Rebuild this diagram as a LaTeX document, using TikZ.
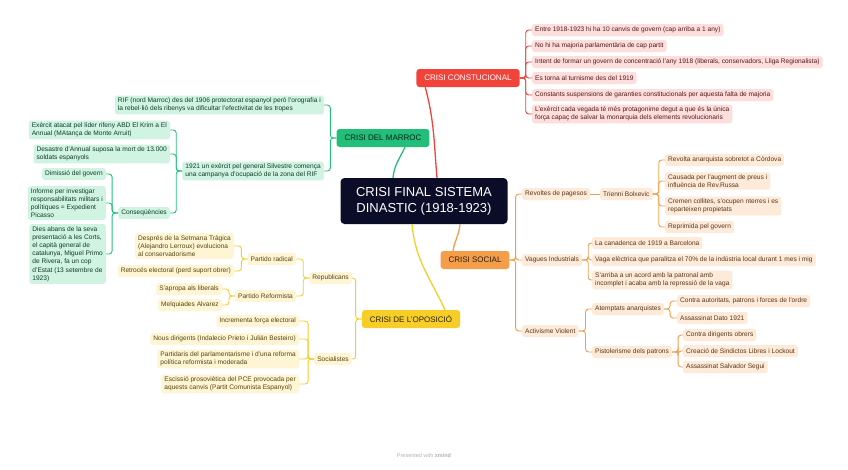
\documentclass[tikz,border=0pt]{standalone}
\usepackage{fontspec}
\setmainfont{Liberation Sans}
\usetikzlibrary{positioning, calc}

\definecolor{fonscentre}{RGB}{11,12,40}
\definecolor{rougebr}{RGB}{240,68,58}
\definecolor{rougeclair}{RGB}{252,222,220}
\definecolor{rougetxt}{RGB}{85,25,25}
\definecolor{vertbr}{RGB}{34,190,122}
\definecolor{vertclair}{RGB}{208,243,226}
\definecolor{verttxt}{RGB}{15,60,40}
\definecolor{orangebr}{RGB}{245,158,74}
\definecolor{orangeclair}{RGB}{253,234,216}
\definecolor{orangetxt}{RGB}{90,55,25}
\definecolor{jaunebr}{RGB}{247,206,40}
\definecolor{jauneclair}{RGB}{254,245,212}
\definecolor{jaunetxt}{RGB}{85,68,15}

\begin{document}
\begin{tikzpicture}[
    x=1pt, y=-1pt,
    centre/.style={rectangle, fill=fonscentre, text=white, rounded corners=4pt,
      align=center, minimum width=167pt, minimum height=46pt,
      font=\fontsize{13}{16}\selectfont},
    theme/.style={rectangle, rounded corners=3pt, inner xsep=8pt,
      minimum height=18pt, font=\fontsize{8}{9}\selectfont},
    feuille/.style={rectangle, rounded corners=2.5pt, align=left, inner xsep=3pt,
      inner ysep=2.2pt, minimum height=12pt, font=\fontsize{6.6}{8.2}\selectfont},
    frouge/.style={feuille, fill=rougeclair, text=rougetxt},
    fvert/.style={feuille, fill=vertclair, text=verttxt},
    forange/.style={feuille, fill=orangeclair, text=orangetxt},
    fjaune/.style={feuille, fill=jauneclair, text=jaunetxt},
    lien/.style={rounded corners=3pt, line width=0.9pt},
    branche/.style={line width=1.3pt}
  ]
    \fill[white] (0,0) rectangle (848,469);
    \useasboundingbox (0,0) rectangle (848,469);

    \node[centre] (centre) at (424,201) {CRISI FINAL SISTEMA\\DINASTIC (1918-1923)};

    % crisi constitucional
    \node[theme, fill=rougebr, text=white] (crc) at (468,78) {CRISI CONSTUCIONAL};
    \node[frouge, anchor=west] (rc1) at (532,30) {Entre 1918-1923 hi ha 10 canvis de govern (cap arriba a 1 any)};
    \node[frouge, anchor=west] (rc2) at (532,46) {No hi ha majoria parlamentària de cap partit};
    \node[frouge, anchor=west] (rc3) at (532,62) {Intent de formar un govern de concentració l'any 1918 (liberals, conservadors, Lliga Regionalista)};
    \node[frouge, anchor=west] (rc4) at (532,78) {Es torna al turnisme des del 1919};
    \node[frouge, anchor=west] (rc5) at (532,95) {Constants suspensions de garanties constitucionals per aquesta falta de majoria};
    \node[frouge, anchor=west] (rc6) at (532,114) {L'exèrcit cada vegada té més protagonime degut a que és la única\\força capaç de salvar la monarquia dels elements revolucionaris};

    % crisi del marroc
    \node[theme, fill=vertbr, text=verttxt!60!black] (crm) at (383,138) {CRISI DEL MARROC};
    \node[fvert, anchor=east] (mr1) at (324,105) {RIF (nord Marroc) des del 1906 protectorat espanyol però l'orografia i\\la rebel·lió dels ribenys va dificultar l'efectivitat de les tropes};
    \node[fvert, anchor=east] (mr2) at (324,171) {1921 un exèrcit pel general Silvestre comença\\una campanya d'ocupació de la zona del RIF};
    \node[fvert, anchor=east] (mr3) at (170,130) {Exèrcit atacat pel líder rifeny ABD El Krim a El\\Annual (MAtança de Monte Arruit)};
    \node[fvert, anchor=east] (mr4) at (170,154) {Desastre d'Annual suposa la mort de 13.000\\soldats espanyols};
    \node[fvert, anchor=east] (mr5) at (170,213) {Conseqüències};
    \node[fvert, anchor=east] (mc1) at (106,174) {Dimissió del govern};
    \node[fvert, anchor=east] (mc2) at (106,203) {Informe per investigar\\responsabilitats militars i\\polítiques = Expedient\\Picasso};
    \node[fvert, anchor=east] (mc3) at (106,254) {Dies abans de la seva\\presentació a les Corts,\\el capità general de\\catalunya, Miguel Primo\\de Rivera, fa un cop\\d'Estat (13 setembre de\\1923)};

    % crisi de l'oposicio
    \node[theme, fill=jaunebr, text=jaunetxt!50!black] (cop) at (411,319) {CRISI DE L'OPOSICIÓ};
    \node[fjaune, anchor=east] (rep) at (352,278) {Republicans};
    \node[fjaune, anchor=east] (soc) at (352,359) {Socialistes};
    \node[fjaune, anchor=east] (prad) at (296,259) {Partido radical};
    \node[fjaune, anchor=east] (pref) at (296,296) {Partido Reformista};
    \node[fjaune, anchor=east] (pr1) at (234,246) {Després de la Setmana Tràgica\\(Alejandro Lerroux) evoluciona\\al conservadorisme};
    \node[fjaune, anchor=east] (pr2) at (234,271) {Retrocés electoral (perd suport obrer)};
    \node[fjaune, anchor=east] (pf1) at (222,289) {S'apropa als liberals};
    \node[fjaune, anchor=east] (pf2) at (222,305) {Melquiades Alvarez};
    \node[fjaune, anchor=east] (so1) at (299,321) {Incrementa força electoral};
    \node[fjaune, anchor=east] (so2) at (299,339) {Nous dirigents (Indalecio Prieto i Julián Besteiro)};
    \node[fjaune, anchor=east] (so3) at (299,359) {Partidaris del parlamentarisme i d'una reforma\\política reformista i moderada};
    \node[fjaune, anchor=east] (so4) at (299,384) {Escissió prosoviètica del PCE provocada per\\aquests canvis (Partit Comunista Espanyol)};

    % crisi social
    \node[theme, fill=orangebr, text=orangetxt!50!black] (cso) at (475,260) {CRISI SOCIAL};
    \node[forange, anchor=west] (rev) at (522,194) {Revoltes de pagesos};
    \node[forange, anchor=west] (vag) at (522,260) {Vagues Industrials};
    \node[forange, anchor=west] (act) at (522,331) {Activisme Violent};
    \node[forange, anchor=west] (tri) at (600,194) {Trienni Bolxevic};
    \node[forange, anchor=west] (tr1) at (665,160) {Revolta anarquista sobretot a Còrdova};
    \node[forange, anchor=west] (tr2) at (665,181) {Causada per l'augment de preus i\\influència de Rev.Russa};
    \node[forange, anchor=west] (tr3) at (665,206) {Cremen collites, s'ocupen nterres i es\\reparteixen propietats};
    \node[forange, anchor=west] (tr4) at (665,227) {Reprimida pel govern};
    \node[forange, anchor=west] (va1) at (592,243) {La canadenca de 1919 a Barcelona};
    \node[forange, anchor=west] (va2) at (592,260) {Vaga elèctrica que paralitza el 70\% de la indústria local durant 1 mes i mig};
    \node[forange, anchor=west] (va3) at (592,280) {S'arriba a un acord amb la patronal amb\\incomplet i acaba amb la repressió de la vaga};
    \node[forange, anchor=west] (ate) at (592,309) {Atemptats anarquistes};
    \node[forange, anchor=west] (pis) at (592,352) {Pistolerisme dels patrons};
    \node[forange, anchor=west] (at1) at (677,301) {Contra autoritats, patrons i forces de l'ordre};
    \node[forange, anchor=west] (at2) at (677,318) {Assassinat Dato 1921};
    \node[forange, anchor=west] (pi1) at (683,335) {Contra dirigents obrers};
    \node[forange, anchor=west] (pi2) at (683,351) {Creació de Sindictos Libres i Lockout};
    \node[forange, anchor=west] (pi3) at (683,367) {Assassinat Salvador Segui};

    \node[font=\fontsize{5.5}{6.5}\selectfont, text=black!30] (pied) at (424,456) {Presented with \textbf{xmind}};

    % branches principals
    \draw[branche, rougebr] ($(centre.north)+(13,0)$) to[out=95, in=-75] ($(crc.south west)+(9,0)$);
    \draw[branche, vertbr] ($(centre.north)+(-31,0)$) to[out=85, in=-115] ($(crm.south)+(22,0)$);
    \draw[branche, jaunebr] ($(centre.south)+(-12,0)$) to[out=-85, in=115] ($(cop.north)+(34,0)$);
    \draw[branche, orangebr] ($(centre.south)+(36,0)$) to[out=-95, in=80] ($(cso.north)+(-22,0)$);

    % liens
    \foreach \i in {1,...,6}
      \draw[lien, rougebr] (crc.east) -- ++(6,0) |- (rc\i.west);
    \foreach \n in {mr1,mr2}
      \draw[lien, vertbr] (crm.west) -- ++(-6,0) |- (\n.east);
    \foreach \n in {mr3,mr4,mr5}
      \draw[lien, vertbr] (mr2.west) -- ++(-6,0) |- (\n.east);
    \foreach \n in {mc1,mc2,mc3}
      \draw[lien, vertbr] (mr5.west) -- ++(-6,0) |- (\n.east);
    \foreach \n in {rep,soc}
      \draw[lien, jaunebr] (cop.west) -- ++(-6,0) |- (\n.east);
    \foreach \n in {prad,pref}
      \draw[lien, jaunebr] (rep.west) -- ++(-6,0) |- (\n.east);
    \foreach \n in {pr1,pr2}
      \draw[lien, jaunebr] (prad.west) -- ++(-6,0) |- (\n.east);
    \foreach \n in {pf1,pf2}
      \draw[lien, jaunebr] (pref.west) -- ++(-6,0) |- (\n.east);
    \foreach \i in {1,...,4}
      \draw[lien, jaunebr] (soc.west) -- ++(-6,0) |- (so\i.east);
    \foreach \n in {rev,vag,act}
      \draw[lien, orangebr] (cso.east) -- ++(6,0) |- (\n.west);
    \draw[lien, orangebr] (rev) -- (tri);
    \foreach \i in {1,...,4}
      \draw[lien, orangebr] (tri.east) -- ++(6,0) |- (tr\i.west);
    \foreach \i in {1,...,3}
      \draw[lien, orangebr] (vag.east) -- ++(6,0) |- (va\i.west);
    \foreach \n in {ate,pis}
      \draw[lien, orangebr] (act.east) -- ++(7,0) |- (\n.west);
    \foreach \i in {1,2}
      \draw[lien, orangebr] (ate.east) -- ++(6,0) |- (at\i.west);
    \foreach \i in {1,...,3}
      \draw[lien, orangebr] (pis.east) -- ++(6,0) |- (pi\i.west);
  \end{tikzpicture}
\end{document}
